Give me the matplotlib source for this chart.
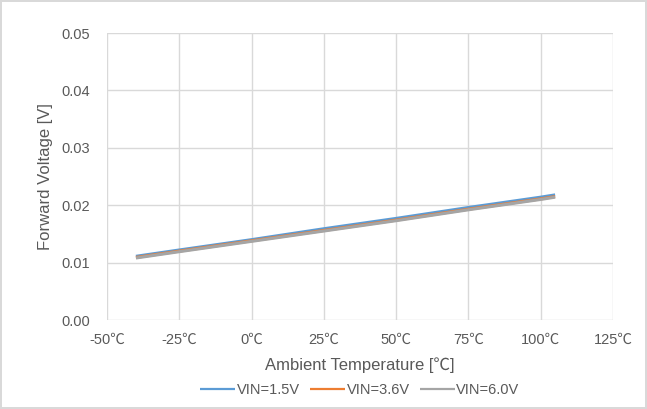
import matplotlib
matplotlib.use("Agg")
import matplotlib.pyplot as plt

plt.rcParams['font.family'] = ['Liberation Sans', 'Noto Sans CJK JP', 'DejaVu Sans']

# data
temps = [-40, -25, 0, 25, 50, 75, 100, 105]
vf_15 = [0.0111, 0.0122, 0.0140, 0.0159, 0.0177, 0.0196, 0.0214, 0.0218]
vf_36 = [0.0109, 0.0120, 0.0138, 0.0156, 0.0174, 0.0193, 0.0211, 0.0215]
vf_60 = [0.0108, 0.0119, 0.0137, 0.0155, 0.0173, 0.0192, 0.0210, 0.0214]
labels = ["VIN=1.5V", "VIN=3.6V", "VIN=6.0V"]
colors = ["#5B9BD5", "#ED7D31", "#A5A5A5"]

x_ticks = [-50, -25, 0, 25, 50, 75, 100, 125]
y_ticks = [0.00, 0.01, 0.02, 0.03, 0.04, 0.05]

fig = plt.figure(figsize=(6.47, 4.09), dpi=100)
fig.patch.set_edgecolor("#d9d9d9")
fig.patch.set_linewidth(1.5)
ax = fig.add_axes([0.1654, 0.2176, 0.7820, 0.7017])

for ys, lab, c in zip([vf_15, vf_36, vf_60], labels, colors):
    ax.plot(temps, ys, color=c, lw=2.2, label=lab, solid_capstyle="butt")

ax.set_xlim(-50, 125)
ax.set_ylim(0, 0.05)
ax.set_xticks(x_ticks)
ax.set_xticklabels(["{}℃".format(t) for t in x_ticks])
ax.set_yticks(y_ticks)
ax.set_yticklabels(["{:.2f}".format(v) for v in y_ticks])
ax.grid(True, color="#d9d9d9", lw=1)
ax.set_axisbelow(True)
for s in ax.spines.values():
    s.set_visible(False)
ax.tick_params(length=0, colors="#595959", labelsize=10.5)
ax.tick_params(axis="y", pad=12)
ax.tick_params(axis="x", pad=9)

ax.set_xlabel("Ambient Temperature [℃]", fontsize=12, color="#595959", labelpad=8)
ax.set_ylabel("Forward Voltage [V]", fontsize=12, color="#595959", labelpad=6)

leg = ax.legend(loc="upper center", bbox_to_anchor=(0.5, -0.175), ncol=3, frameon=False,
                fontsize=10.5, labelcolor="#595959", handlelength=2.4, handletextpad=0.1,
                columnspacing=0.7)
for h in leg.get_lines():
    h.set_linewidth(1.6)

fig.savefig("out.png", dpi=100)
